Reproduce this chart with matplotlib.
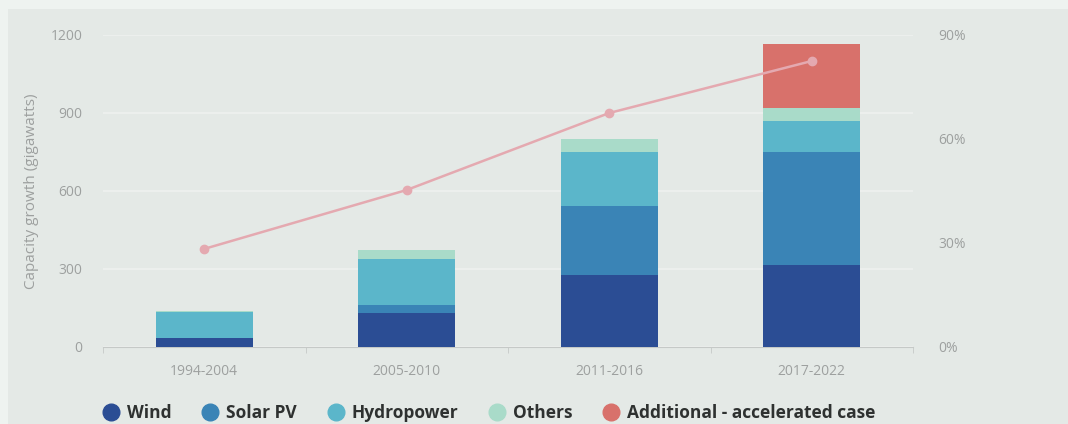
import numpy as np
import matplotlib.pyplot as plt
from matplotlib.patches import Rectangle
from matplotlib.lines import Line2D

plt.rcParams["font.family"] = ["Open Sans", "DejaVu Sans"]

# 数据
periods = ["1994-2004", "2005-2010", "2011-2016", "2017-2022"]
wind = [35, 131, 277, 315]
solar_pv = [0, 31, 265, 435]
hydropower = [100, 176, 208, 119]
others = [3, 35, 50, 50]
additional = [0, 0, 0, 246]
share_pct = [28.3, 45.3, 67.5, 82.5]

series = [
    ("Wind", wind, "#2b4d94"),
    ("Solar PV", solar_pv, "#3a84b6"),
    ("Hydropower", hydropower, "#5bb6ca"),
    ("Others", others, "#a9dbc9"),
    ("Additional - accelerated case", additional, "#d8716b"),
]
label_color = "#9da09f"

fig = plt.figure(figsize=(10.68, 4.24), dpi=100)
fig.patch.set_facecolor("#eef3f0")
# 内部面板
fig.patches.append(Rectangle((8 / 1068, 0), 1, 1 - 9 / 424, transform=fig.transFigure,
                             facecolor="#e4e9e6", edgecolor="none", zorder=-10))

ax = fig.add_axes([103 / 1068, 77 / 424, 810 / 1068, 312 / 424])
ax.set_facecolor("none")
x = np.arange(len(periods))
bottom = np.zeros(len(periods))
for name, vals, color in series:
    ax.bar(x, vals, width=0.48, bottom=bottom, color=color, label=name, zorder=3)
    bottom += np.array(vals)

ax.set_xlim(-0.5, 3.5)
ax.set_ylim(0, 1200)
ax.set_yticks([0, 300, 600, 900, 1200])
ax.set_xticks(x)
ax.set_xticklabels(periods)
ax.set_xticks(np.arange(-0.5, 4, 1), minor=True)
ax.tick_params(axis="x", which="major", length=0, pad=12, labelsize=10, labelcolor=label_color)
ax.tick_params(axis="x", which="minor", length=4, color="#c5c9c7", direction="out")
ax.tick_params(axis="y", length=0, pad=15, labelsize=10, labelcolor=label_color)
ax.grid(axis="y", color="#eef1ef", linewidth=1.2, zorder=0)
for s in ["top", "right", "left"]:
    ax.spines[s].set_visible(False)
ax.spines["bottom"].set_color("#c5c9c7")
ax.set_ylabel("Capacity growth (gigawatts)", fontsize=11, color=label_color, labelpad=8)

ax2 = ax.twinx()
ax2.plot(x, share_pct, color="#e4a9b0", linewidth=1.8, marker="o", markersize=6, zorder=5)
ax2.set_ylim(0, 90)
ax2.set_yticks([0, 30, 60, 90])
ax2.set_yticklabels(["0%", "30%", "60%", "90%"])
ax2.tick_params(axis="y", length=0, pad=18, labelsize=10, labelcolor=label_color)
for s in ax2.spines.values():
    s.set_visible(False)

handles = [Line2D([], [], marker="o", linestyle="none", markersize=12,
                  markerfacecolor=c, markeredgecolor=c) for _, _, c in series]
fig.legend(handles, [n for n, _, _ in series], loc="lower left",
           bbox_to_anchor=(85 / 1068, -0.032), ncol=5, frameon=False,
           prop={"weight": "bold", "size": 12.5}, labelcolor="#2e3130",
           handletextpad=0.3, columnspacing=1.65, handlelength=1.2)

plt.savefig("out.png", dpi=100, facecolor=fig.get_facecolor())
